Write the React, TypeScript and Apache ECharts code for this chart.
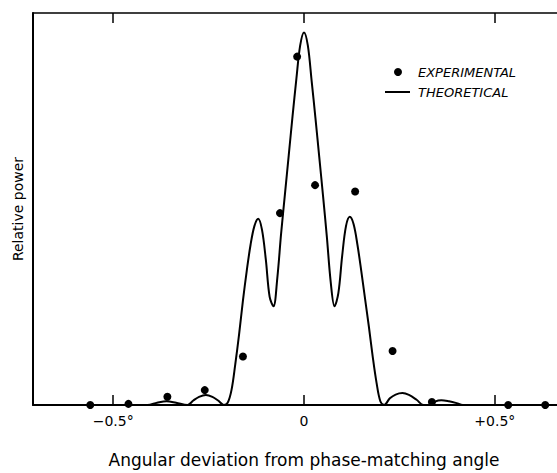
import React, { useEffect, useRef } from "react";
import * as echarts from "echarts";

// Theoretical curve (angular deviation in degrees, relative power)
const theoryDeg = [
  -0.71, -0.41, -0.385, -0.36, -0.335, -0.305,
  -0.29, -0.275, -0.257, -0.24, -0.225,
  -0.21, -0.2, -0.19, -0.18, -0.17, -0.16, -0.15, -0.14, -0.13, -0.12, -0.11, -0.1, -0.09, -0.08, -0.07, -0.06, -0.05, -0.04, -0.03, -0.02, -0.01, 0,
  0.01, 0.02, 0.03, 0.04, 0.05, 0.06, 0.07, 0.08, 0.09, 0.1, 0.11, 0.12, 0.13, 0.14, 0.15, 0.16, 0.17, 0.18, 0.19, 0.2, 0.21,
  0.225, 0.24, 0.258, 0.275, 0.295, 0.313,
  0.335, 0.345, 0.36, 0.38, 0.4, 0.416, 0.71,
];
const theoryPower = [
  0, 0, 0.006, 0.01, 0.006, 0,
  0.012, 0.022, 0.027, 0.022, 0.012,
  0, 0.006, 0.04, 0.11, 0.19, 0.28, 0.36, 0.43, 0.48, 0.5, 0.47, 0.39, 0.29, 0.265, 0.34, 0.46, 0.565, 0.67, 0.775, 0.875, 0.965, 1.0,
  0.965, 0.87, 0.77, 0.665, 0.56, 0.45, 0.33, 0.265, 0.3, 0.4, 0.48, 0.505, 0.485, 0.43, 0.36, 0.285, 0.21, 0.13, 0.06, 0.01, 0,
  0.018, 0.028, 0.032, 0.027, 0.014, 0,
  0, 0.01, 0.013, 0.01, 0.005, 0, 0,
];

// Experimental points
const expDeg = [-0.56, -0.46, -0.358, -0.26, -0.16, -0.063, -0.018, 0.029, 0.134, 0.232, 0.335, 0.535, 0.632];
const expPower = [0, 0.003, 0.022, 0.04, 0.13, 0.515, 0.935, 0.59, 0.573, 0.145, 0.008, 0, 0];

// Axis ticks
const tickValues = [-0.5, 0, 0.5];
const tickLabels = ["\u22120.5\u00b0", "0", "+0.5\u00b0"];

const legendLabels = ["EXPERIMENTAL", "THEORETICAL"];
const xTitle = "Angular deviation from phase-matching angle";
const yTitle = "Relative power";

const FONT = "DejaVu Sans";

export default function App() {
  const ref = useRef<HTMLDivElement>(null);
  useEffect(() => {
    if (!ref.current) return;
    const chart = echarts.init(ref.current, null, { renderer: "svg" });
    const line = theoryDeg.map((d, i) => [d, theoryPower[i]]);
    const pts = expDeg.map((d, i) => [d, expPower[i]]);
    const labelFor = (v: number) => {
      const i = tickValues.findIndex((t) => Math.abs(t - v) < 1e-9);
      return i >= 0 ? tickLabels[i] : "";
    };
    chart.setOption({
      animation: false,
      grid: { left: 33, top: 13, width: 542, height: 406 },
      xAxis: [
        {
          type: "value",
          min: -0.71,
          max: 0.71,
          position: "bottom",
          axisLine: { show: true, onZero: false, lineStyle: { color: "#000", width: 2 } },
          axisTick: {
            show: true,
            inside: true,
            length: 10,
            customValues: tickValues,
            lineStyle: { color: "#000", width: 1.5 },
          },
          axisLabel: {
            show: true,
            customValues: tickValues,
            formatter: (v: number) => labelFor(v),
            color: "#000",
            fontFamily: FONT,
            fontSize: 14,
            margin: 9,
          },
          splitLine: { show: false },
          name: xTitle,
          nameLocation: "middle",
          nameGap: 46,
          nameTextStyle: { color: "#000", fontFamily: FONT, fontSize: 17 },
        },
        {
          type: "value",
          min: -0.71,
          max: 0.71,
          position: "top",
          axisLine: { show: true, onZero: false, lineStyle: { color: "#000", width: 1.5 } },
          axisTick: {
            show: true,
            inside: true,
            length: 10,
            customValues: tickValues,
            lineStyle: { color: "#000", width: 1.5 },
          },
          axisLabel: { show: false },
          splitLine: { show: false },
        },
      ],
      yAxis: {
        type: "value",
        min: 0,
        max: 1.052,
        position: "left",
        axisLine: { show: true, onZero: false, lineStyle: { color: "#000", width: 2 } },
        axisTick: { show: false },
        axisLabel: { show: false },
        splitLine: { show: false },
        name: yTitle,
        nameLocation: "middle",
        nameGap: 8,
        nameRotate: 90,
        nameTextStyle: { color: "#000", fontFamily: FONT, fontSize: 14 },
      },
      series: [
        {
          type: "line",
          xAxisIndex: 0,
          data: line,
          smooth: 0.35,
          showSymbol: false,
          lineStyle: { color: "#000", width: 2 },
          clip: false,
          z: 3,
        },
        {
          type: "scatter",
          xAxisIndex: 0,
          data: pts,
          symbol: "circle",
          symbolSize: 8,
          itemStyle: { color: "#000", opacity: 1 },
          clip: false,
          z: 4,
        },
      ],
      graphic: [
        { type: "circle", shape: { cx: 398, cy: 72, r: 4 }, style: { fill: "#000" } },
        {
          type: "text",
          x: 418,
          y: 72,
          style: {
            text: legendLabels[0],
            fill: "#000",
            font: `italic 13px "${FONT}"`,
            verticalAlign: "middle",
            align: "left",
          },
        },
        { type: "line", shape: { x1: 385, y1: 92, x2: 410, y2: 92 }, style: { stroke: "#000", lineWidth: 2 } },
        {
          type: "text",
          x: 418,
          y: 92,
          style: {
            text: legendLabels[1],
            fill: "#000",
            font: `italic 13px "${FONT}"`,
            verticalAlign: "middle",
            align: "left",
          },
        },
      ],
    });
    return () => chart.dispose();
  }, []);
  return (
    <div style={{ position: "fixed", left: 0, top: 0, width: 557, height: 473, overflow: "hidden", background: "#fff" }}>
      <div ref={ref} style={{ width: 600, height: 473 }} />
    </div>
  );
}
